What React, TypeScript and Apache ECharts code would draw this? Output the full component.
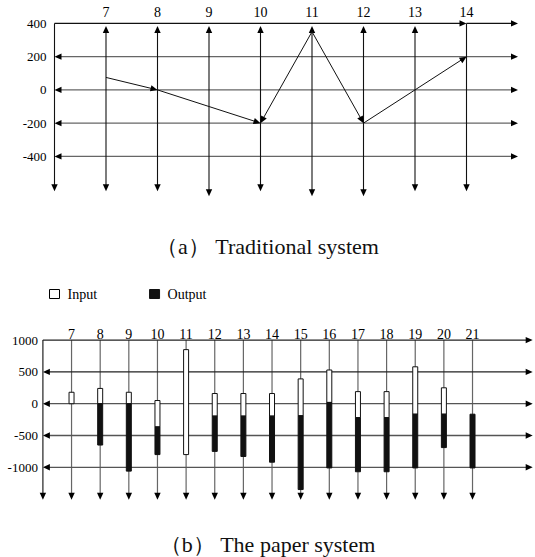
import React, { useEffect, useRef } from "react";
import * as echarts from "echarts";

const FONT = "Liberation Serif";

// ---------- (a) Traditional system ----------
const unitsA = [7, 8, 9, 10, 11, 12, 13, 14];
const yTopA = 400;
const yLevelsA = [200, 0, -200, -400];
const longDropA = [9, 11, 12];
const flowFromUnit = [7, 8, 11, 11, 12];
const flowFromValue = [75, 0, 350, 350, -200];
const flowToUnit = [8, 10, 10, 12, 14];
const flowToValue = [0, -200, -200, -200, 200];

// ---------- (b) The paper system ----------
const unitsB = [7, 8, 9, 10, 11, 12, 13, 14, 15, 16, 17, 18, 19, 20, 21];
const yTopB = 1000;
const yLevelsB = [500, 0, -500, -1000];
const inputHigh = [180, 240, 180, 50, 850, 160, 160, 160, 390, 530, 190, 190, 580, 250, null];
const inputLow = [0, 0, 0, -365, -800, -195, -195, -195, -190, 20, -220, -220, -165, -165, null];
const outputHigh = [null, 0, 0, -365, null, -195, -195, -195, -190, 20, -220, -220, -165, -165, -165];
const outputLow = [null, -650, -1060, -800, null, -750, -830, -920, -1350, -1010, -1070, -1070, -1010, -690, -1010];

// layout constants
const AXIS_X = 6;
const END_A = 15;
const END_B = 23.1;
const UP_TIP_A = 385;
const DROP_A = -610;
const DROP_A_LONG = -640;
const DROP_B = -1510;

type Seg = number[];

function arrowRenderer(color: string, width: number, headLen = 7, halfW = 3.2) {
  return (_params: any, api: any) => {
    const a = api.coord([api.value(0), api.value(1)]);
    const b = api.coord([api.value(2), api.value(3)]);
    const hs = api.value(4);
    const he = api.value(5);
    const dx = b[0] - a[0];
    const dy = b[1] - a[1];
    const len = Math.hypot(dx, dy) || 1;
    const ux = dx / len;
    const uy = dy / len;
    const nx = -uy;
    const ny = ux;
    const children: any[] = [];
    let s = a;
    let e = b;
    if (he) {
      const bx = b[0] - ux * headLen;
      const by = b[1] - uy * headLen;
      children.push({
        type: "polygon",
        shape: { points: [[b[0], b[1]], [bx + nx * halfW, by + ny * halfW], [bx - nx * halfW, by - ny * halfW]] },
        style: { fill: "#000" },
      });
      e = [bx + ux, by + uy];
    }
    if (hs) {
      const bx = a[0] + ux * headLen;
      const by = a[1] + uy * headLen;
      children.push({
        type: "polygon",
        shape: { points: [[a[0], a[1]], [bx + nx * halfW, by + ny * halfW], [bx - nx * halfW, by - ny * halfW]] },
        style: { fill: "#000" },
      });
      s = [bx - ux, by - uy];
    }
    children.unshift({
      type: "line",
      shape: { x1: s[0], y1: s[1], x2: e[0], y2: e[1] },
      style: { stroke: color, lineWidth: width },
    });
    return { type: "group", children };
  };
}

function arrowSeries(idx: number, data: Seg[], color: string, width: number) {
  return {
    type: "custom",
    coordinateSystem: "cartesian2d",
    xAxisIndex: idx,
    yAxisIndex: idx,
    silent: true,
    encode: { x: [0, 2], y: [1, 3] },
    data,
    renderItem: arrowRenderer(color, width),
  };
}

function barSeries(name: string, units: number[], low: (number | null)[], high: (number | null)[], fill: string, stroke: string) {
  const data: number[][] = [];
  units.forEach((u, i) => {
    if (low[i] != null && high[i] != null) data.push([u, low[i] as number, high[i] as number]);
  });
  return {
    name,
    type: "custom",
    coordinateSystem: "cartesian2d",
    xAxisIndex: 1,
    yAxisIndex: 1,
    encode: { x: 0, y: [1, 2] },
    itemStyle: { color: fill, borderColor: stroke, borderWidth: 1 },
    data,
    z: 5,
    renderItem: (_p: any, api: any) => {
      const top = api.coord([api.value(0), api.value(2)]);
      const bot = api.coord([api.value(0), api.value(1)]);
      const w = 5;
      return {
        type: "rect",
        shape: { x: top[0] - w / 2, y: top[1], width: w, height: bot[1] - top[1] },
        style: { fill, stroke, lineWidth: 1 },
      };
    },
  };
}

export default function App() {
  const ref = useRef<HTMLDivElement>(null);
  useEffect(() => {
    if (!ref.current) return;
    const chart = echarts.init(ref.current, undefined, { renderer: "svg" });

    // ---- chart (a) structure ----
    const lastA = unitsA[unitsA.length - 1];
    const aGray: Seg[] = yLevelsA.map((v) => [AXIS_X, v, END_A, v, 1, 1]);
    const aBlack: Seg[] = [
      [AXIS_X, yTopA, lastA, yTopA, 0, 1],
      [lastA, yTopA, END_A, yTopA, 0, 1],
      [AXIS_X, yTopA, AXIS_X, DROP_A, 0, 1],
    ];
    unitsA.forEach((u) => {
      const bottom = longDropA.includes(u) ? DROP_A_LONG : DROP_A;
      if (u === lastA) aBlack.push([u, yTopA, u, bottom, 0, 1]);
      else aBlack.push([u, UP_TIP_A, u, bottom, 1, 1]);
    });
    const aFlow: Seg[] = flowFromUnit.map((u, i) => [u, flowFromValue[i], flowToUnit[i], flowToValue[i], 0, 1]);

    // ---- chart (b) structure ----
    const bDark: Seg[] = [
      [AXIS_X, yTopB, END_B, yTopB, 0, 1],
      [AXIS_X, yLevelsB[0], END_B, yLevelsB[0], 1, 1],
      [AXIS_X, yTopB, AXIS_X, DROP_B, 0, 1],
    ];
    const bGray: Seg[] = yLevelsB.slice(1).map((v) => [AXIS_X, v, END_B, v, 1, 1]);
    const bVert: Seg[] = unitsB.map((u) => [u, yTopB, u, DROP_B, 0, 1]);

    const axisText = { fontFamily: FONT, color: "#000" };

    chart.setOption({
      animation: false,
      backgroundColor: "#fff",
      textStyle: { fontFamily: FONT },
      grid: [
        { left: 54.5, top: 23.4, width: 463.5, height: 199.5 },
        { left: 42.9, top: 340.1, width: 486.9, height: 159 },
      ],
      xAxis: [
        {
          type: "value", gridIndex: 0, position: "top", min: 6, max: 15, interval: 1,
          axisLine: { show: false }, axisTick: { show: false }, splitLine: { show: false },
          axisLabel: {
            ...axisText, fontSize: 14, margin: 4,
            formatter: (v: number) => (unitsA.includes(v) ? String(v) : ""),
          },
        },
        {
          type: "value", gridIndex: 1, position: "top", min: 6, max: 23, interval: 1,
          axisLine: { show: false }, axisTick: { show: false }, splitLine: { show: false },
          axisLabel: {
            ...axisText, fontSize: 14, margin: -1,
            formatter: (v: number) => (unitsB.includes(v) ? String(v) : ""),
          },
        },
      ],
      yAxis: [
        {
          type: "value", gridIndex: 0, min: -800, max: 400, interval: 200,
          axisLine: { show: false }, axisTick: { show: false }, splitLine: { show: false },
          axisLabel: {
            ...axisText, fontSize: 13, margin: 8,
            formatter: (v: number) => (v < -400 ? "" : String(v)),
          },
        },
        {
          type: "value", gridIndex: 1, min: -1500, max: 1000, interval: 500,
          axisLine: { show: false }, axisTick: { show: false }, splitLine: { show: false },
          axisLabel: {
            ...axisText, fontSize: 13, margin: 5,
            formatter: (v: number) => (v < -1000 ? "" : String(v)),
          },
        },
      ],
      legend: {
        left: 44,
        top: 282,
        itemWidth: 10,
        itemHeight: 9,
        itemGap: 52,
        textStyle: { fontFamily: FONT, fontSize: 14, color: "#000", padding: [0, 0, 0, 3] },
        data: [
          { name: "Input", icon: "rect", itemStyle: { color: "#fff", borderColor: "#000", borderWidth: 1 } },
          { name: "Output", icon: "rect", itemStyle: { color: "#111", borderColor: "#111", borderWidth: 1 } },
        ],
      },
      graphic: [
        {
          type: "text", x: 267.5, y: 246,
          style: { text: "（a） Traditional system", fontSize: 22, fontFamily: FONT, fill: "#111", align: "center", verticalAlign: "middle" },
        },
        {
          type: "text", x: 267.5, y: 544,
          style: { text: "（b） The paper system", fontSize: 22, fontFamily: FONT, fill: "#111", align: "center", verticalAlign: "middle" },
        },
      ],
      series: [
        arrowSeries(0, aGray, "#666", 1.4),
        arrowSeries(0, aBlack, "#111", 1.1),
        arrowSeries(0, aFlow, "#111", 1),
        arrowSeries(1, bVert, "#666", 1.2),
        arrowSeries(1, bGray, "#555", 1.3),
        arrowSeries(1, bDark, "#222", 1.2),
        barSeries("Input", unitsB, inputLow, inputHigh, "#fff", "#111"),
        barSeries("Output", unitsB, outputLow, outputHigh, "#111", "#111"),
      ],
    });
    return () => chart.dispose();
  }, []);
  return <div ref={ref} style={{ position: "absolute", left: 0, top: 0, width: 535, height: 557 }} />;
}
